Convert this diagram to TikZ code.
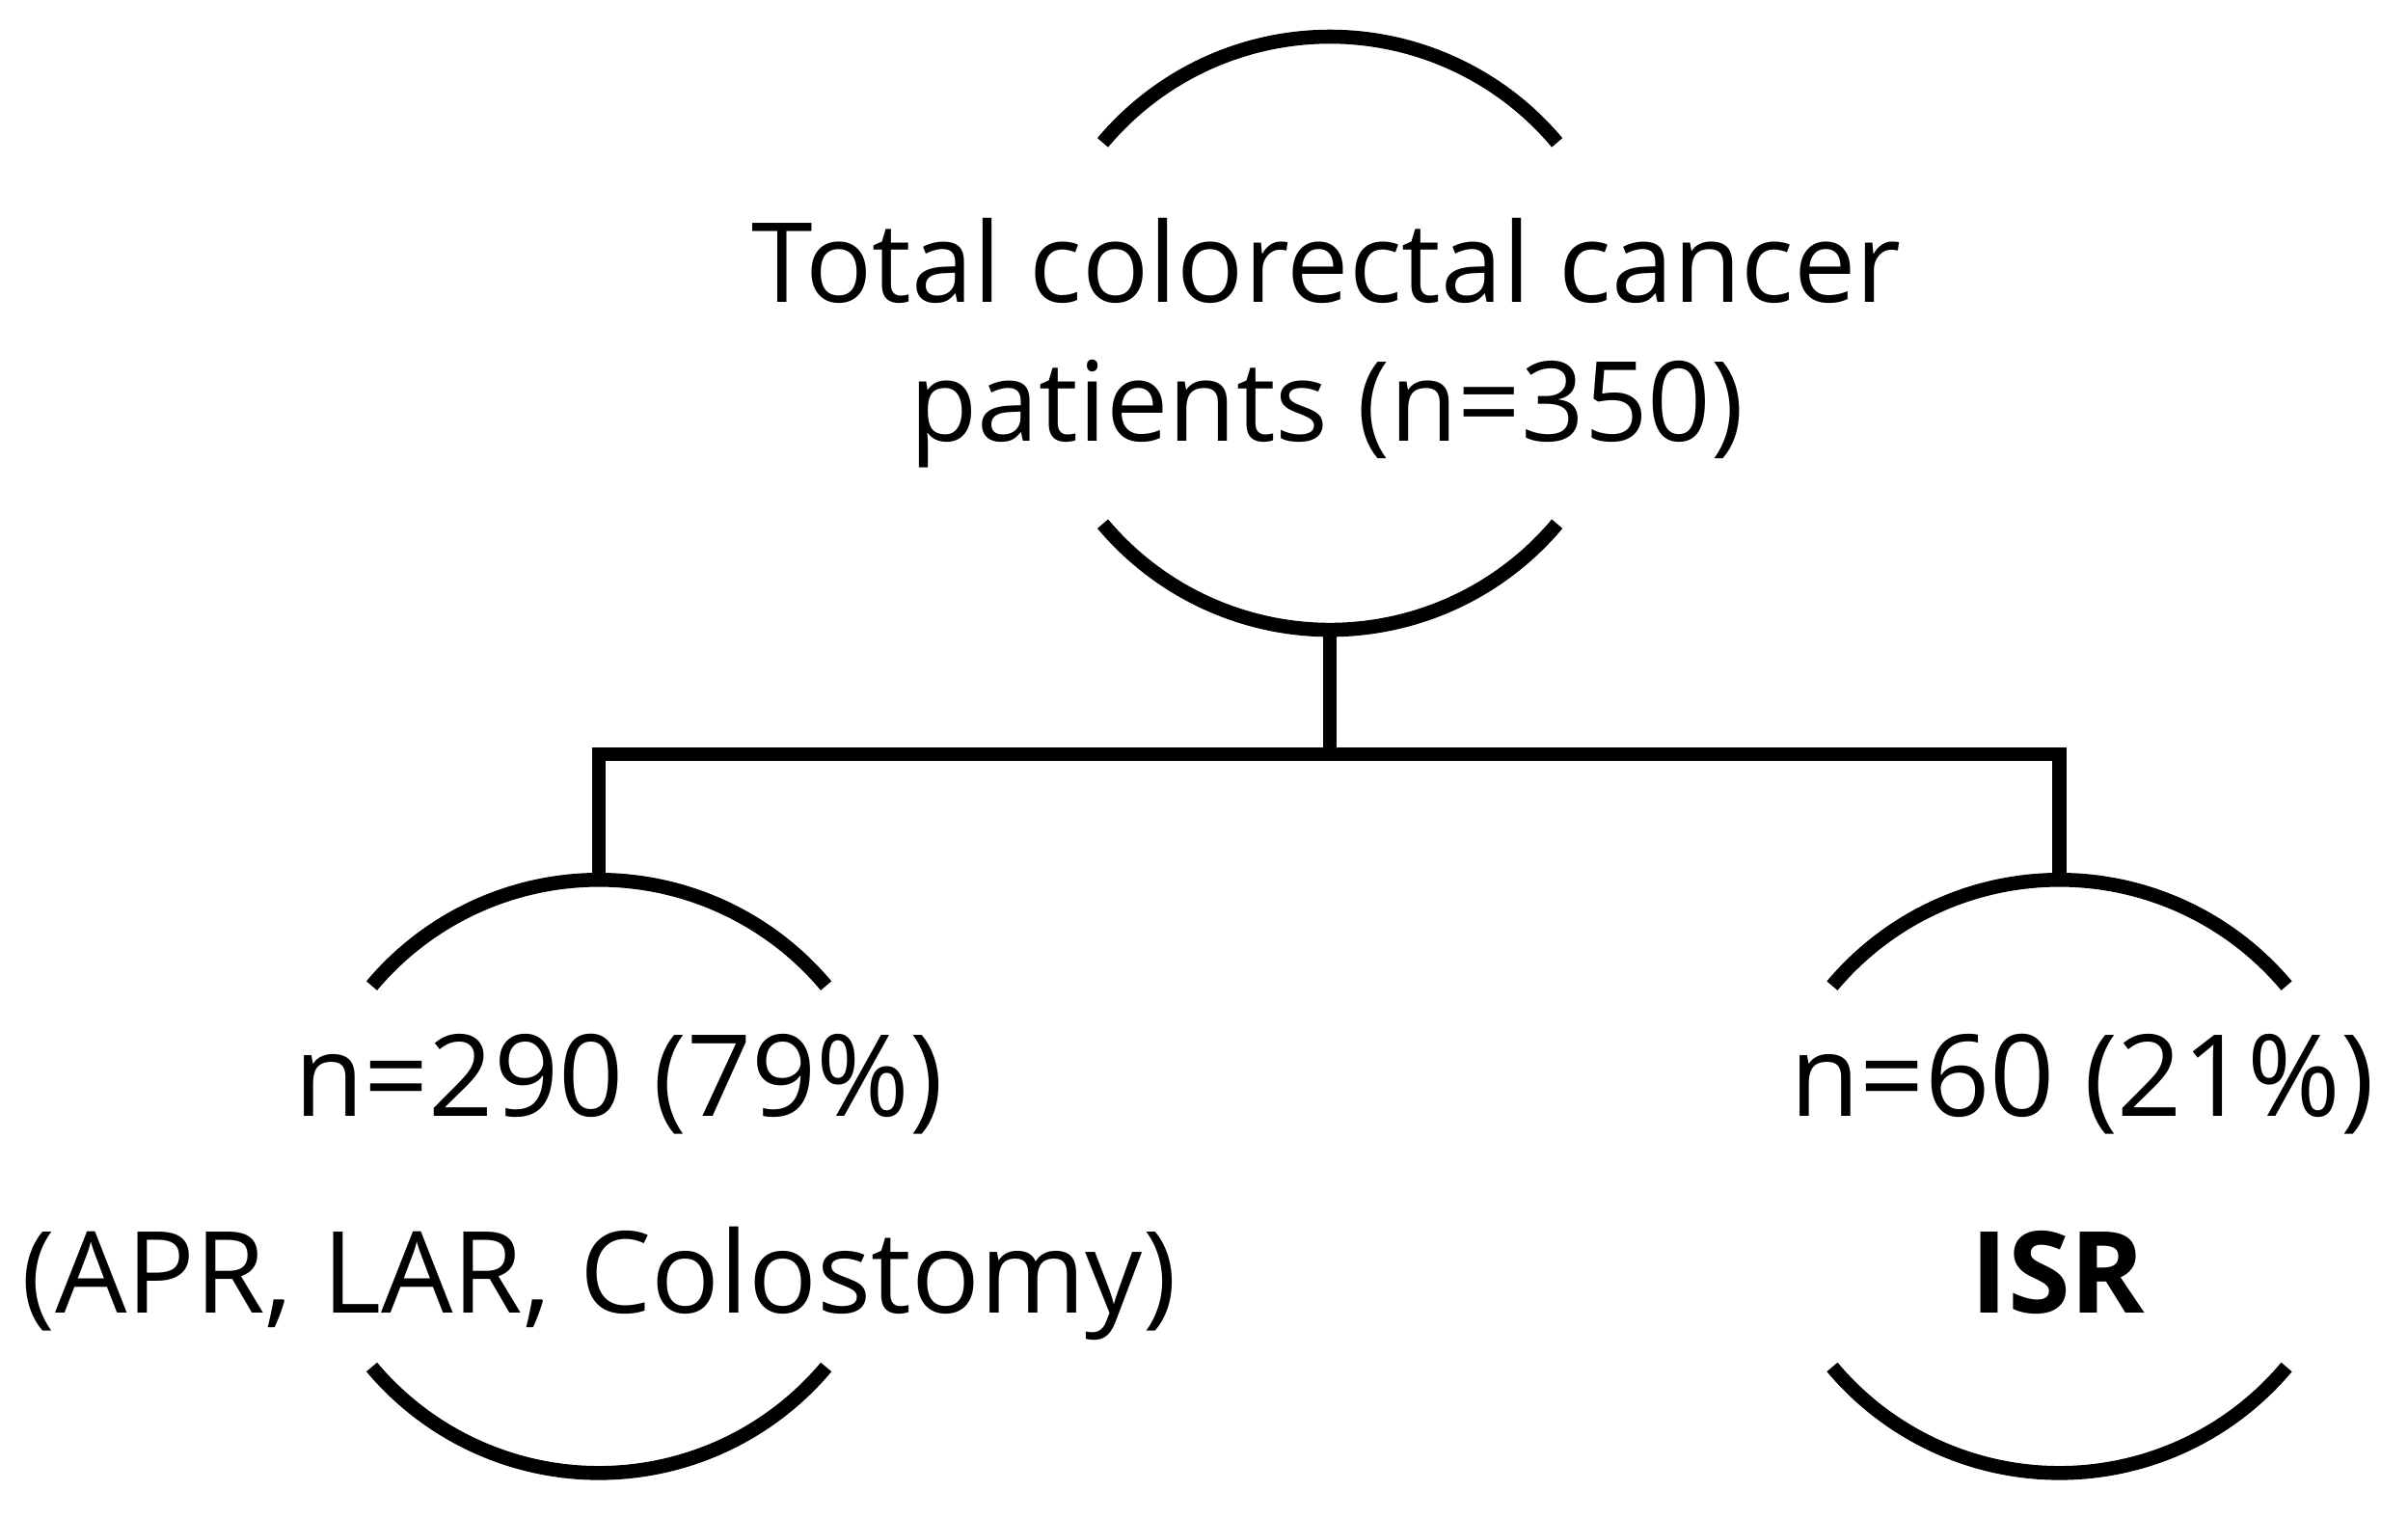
\documentclass[tikz,border=0pt]{standalone}
\usepackage{fontspec}
\setmainfont{Open Sans}
\begin{document}
\begin{tikzpicture}[x=0.01cm,y=0.01cm,
  ring/.style={circle,minimum size=3.86cm,inner sep=0pt,outer sep=0pt},
  arcline/.style={line width=2.6pt,black},
  conn/.style={line width=2.6pt,black},
  txt/.style={anchor=base,inner sep=0pt}]
\useasboundingbox (0,0) rectangle (1568,988);
% circle holders
\node[ring] (top) at (866,771) {};
\node[ring] (left) at (390,222) {};
\node[ring] (right) at (1341,222) {};
% arcs
\foreach \n in {top,left,right}{
  \draw[arcline] (\n.40) arc[start angle=40,end angle=140,radius=1.93cm];
  \draw[arcline] (\n.220) arc[start angle=220,end angle=320,radius=1.93cm];
}
% texts
\node[txt,font=\fontsize{20.5}{24}\selectfont] (t1) at (864,791) {Total colorectal cancer};
\node[txt,font=\fontsize{20.5}{24}\selectfont] (t2) at (864,701) {patients (n=350)};
\node[txt,font=\fontsize{21}{25}\selectfont] (l1) at (403,261) {n=290 (79\%)};
\node[txt,font=\fontsize{21}{25}\selectfont] (l2) at (390,133) {(APR, LAR, Colostomy)};
\node[txt,font=\fontsize{21}{25}\selectfont] (r1) at (1356,261) {n=60 (21\%)};
\node[txt,font=\fontsize{21}{25}\selectfont\bfseries] (r2) at (1340,133) {ISR};
% connectors
\coordinate (split) at (866,497);
\draw[conn] (top.south) -- (split);
\draw[conn] (left.north) |- (split) -| (right.north);
\end{tikzpicture}
\end{document}
